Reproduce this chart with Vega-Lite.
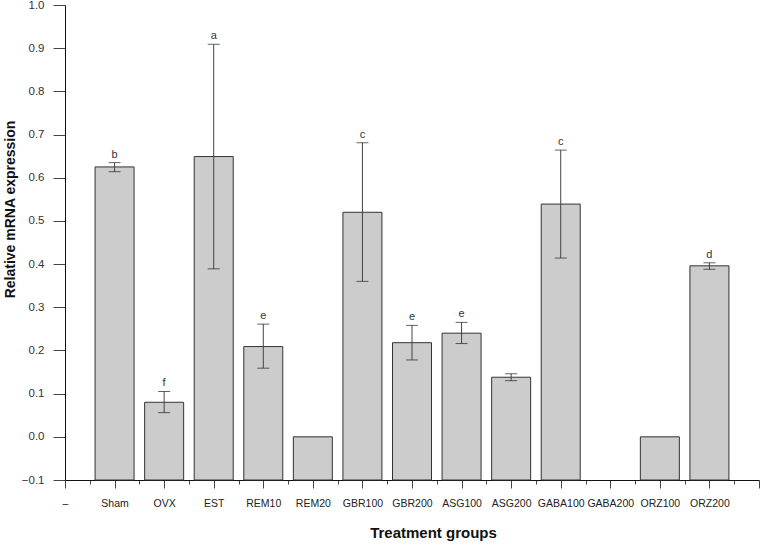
{
  "$schema": "https://vega.github.io/schema/vega-lite/v6.json",
  "width": 694,
  "height": 475,
  "autosize": "none",
  "padding": {"left": 65, "top": 5, "right": 2, "bottom": 65},
  "background": "white",
  "config": {"view": {"stroke": null}, "font": "Liberation Sans"},
  "data": {
    "values": [
      {"group": "Sham", "mean": 0.625, "lower": 0.614, "upper": 0.635, "letter": "b"},
      {"group": "OVX", "mean": 0.080, "lower": 0.056, "upper": 0.105, "letter": "f"},
      {"group": "EST", "mean": 0.649, "lower": 0.389, "upper": 0.909, "letter": "a"},
      {"group": "REM10", "mean": 0.209, "lower": 0.159, "upper": 0.261, "letter": "e"},
      {"group": "REM20", "mean": 0.0, "lower": null, "upper": null, "letter": ""},
      {"group": "GBR100", "mean": 0.520, "lower": 0.360, "upper": 0.681, "letter": "c"},
      {"group": "GBR200", "mean": 0.218, "lower": 0.178, "upper": 0.258, "letter": "e"},
      {"group": "ASG100", "mean": 0.240, "lower": 0.216, "upper": 0.265, "letter": "e"},
      {"group": "ASG200", "mean": 0.138, "lower": 0.130, "upper": 0.146, "letter": ""},
      {"group": "GABA100", "mean": 0.539, "lower": 0.414, "upper": 0.664, "letter": "c"},
      {"group": "ORZ100", "mean": 0.0, "lower": null, "upper": null, "letter": ""},
      {"group": "ORZ200", "mean": 0.396, "lower": 0.388, "upper": 0.403, "letter": "d"}
    ]
  },
  "encoding": {
    "x": {
      "field": "group",
      "type": "nominal",
      "sort": null,
      "scale": {
        "type": "point",
        "padding": 0,
        "domain": ["–", "~1", "Sham", "~2", "OVX", "~3", "EST", "~4", "REM10", "~5", "REM20", "~6", "GBR100", "~7", "GBR200", "~8", "ASG100", "~9", "ASG200", "~10", "GABA100", "~11", "GABA200", "~12", "ORZ100", "~13", "ORZ200", "~14", "~end"]
      },
      "axis": {
        "title": "Treatment groups",
        "labelExpr": "indexof(datum.value, '~') == 0 ? '' : datum.label",
        "tickSize": {"condition": {"test": "indexof(datum.value, '~') == 0 && datum.value != '~end'", "value": 4}, "value": 8},
        "labelAngle": 0,
        "labelFontSize": 10.5,
        "labelColor": "#222",
        "labelPadding": 10,
        "labelOverlap": false,
        "domainColor": "#111",
        "tickColor": "#444",
        "titleFontSize": 15,
        "titleFontWeight": "bold",
        "titleColor": "#111",
        "titleX": 368,
        "titleY": 52,
        "titleBaseline": "middle"
      }
    }
  },
  "layer": [
    {
      "mark": {"type": "bar", "size": 39, "fill": "#cccccc", "stroke": "#333", "strokeWidth": 1},
      "encoding": {
        "y": {
          "field": "mean",
          "type": "quantitative",
          "scale": {"domain": [-0.1, 1.0], "nice": false, "zero": false},
          "axis": {
            "title": "Relative mRNA expression",
            "values": [-0.1, -0.05, 0, 0.05, 0.1, 0.15, 0.2, 0.25, 0.3, 0.35, 0.4, 0.45, 0.5, 0.55, 0.6, 0.65, 0.7, 0.75, 0.8, 0.85, 0.9, 0.95, 1.0],
            "labelExpr": "abs(round(datum.value * 100)) % 10 == 5 ? '' : format(datum.value, '.1f')",
            "tickSize": {"condition": {"test": "abs(round(datum.value * 100)) % 10 == 5", "value": 6}, "value": 12},
            "labelPadding": 9,
            "labelFontSize": 11.5,
            "labelColor": "#333",
            "labelOverlap": false,
            "grid": false,
            "domainColor": "#111",
            "tickColor": "#444",
            "titleFontSize": 14,
            "titleFontWeight": "bold",
            "titleColor": "#111",
            "titleX": -55,
            "titleY": 204,
            "titleAlign": "center",
            "titleBaseline": "middle"
          }
        },
        "y2": {"datum": -0.1}
      }
    },
    {
      "transform": [{"filter": "datum.upper != null"}],
      "mark": {"type": "rule", "color": "#444", "strokeWidth": 1},
      "encoding": {
        "y": {"field": "lower", "type": "quantitative"},
        "y2": {"field": "upper"}
      }
    },
    {
      "transform": [{"filter": "datum.upper != null"}],
      "mark": {"type": "tick", "size": 12, "thickness": 1, "color": "#222"},
      "encoding": {
        "y": {"field": "upper", "type": "quantitative"}
      }
    },
    {
      "transform": [{"filter": "datum.lower != null"}],
      "mark": {"type": "tick", "size": 12, "thickness": 1, "color": "#222"},
      "encoding": {
        "y": {"field": "lower", "type": "quantitative"}
      }
    },
    {
      "transform": [{"filter": "datum.upper != null"}],
      "mark": {"type": "text", "fontSize": 11, "color": "#333", "baseline": "alphabetic", "dy": -5},
      "encoding": {
        "y": {"field": "upper", "type": "quantitative"},
        "text": {"field": "letter"}
      }
    }
  ]
}
